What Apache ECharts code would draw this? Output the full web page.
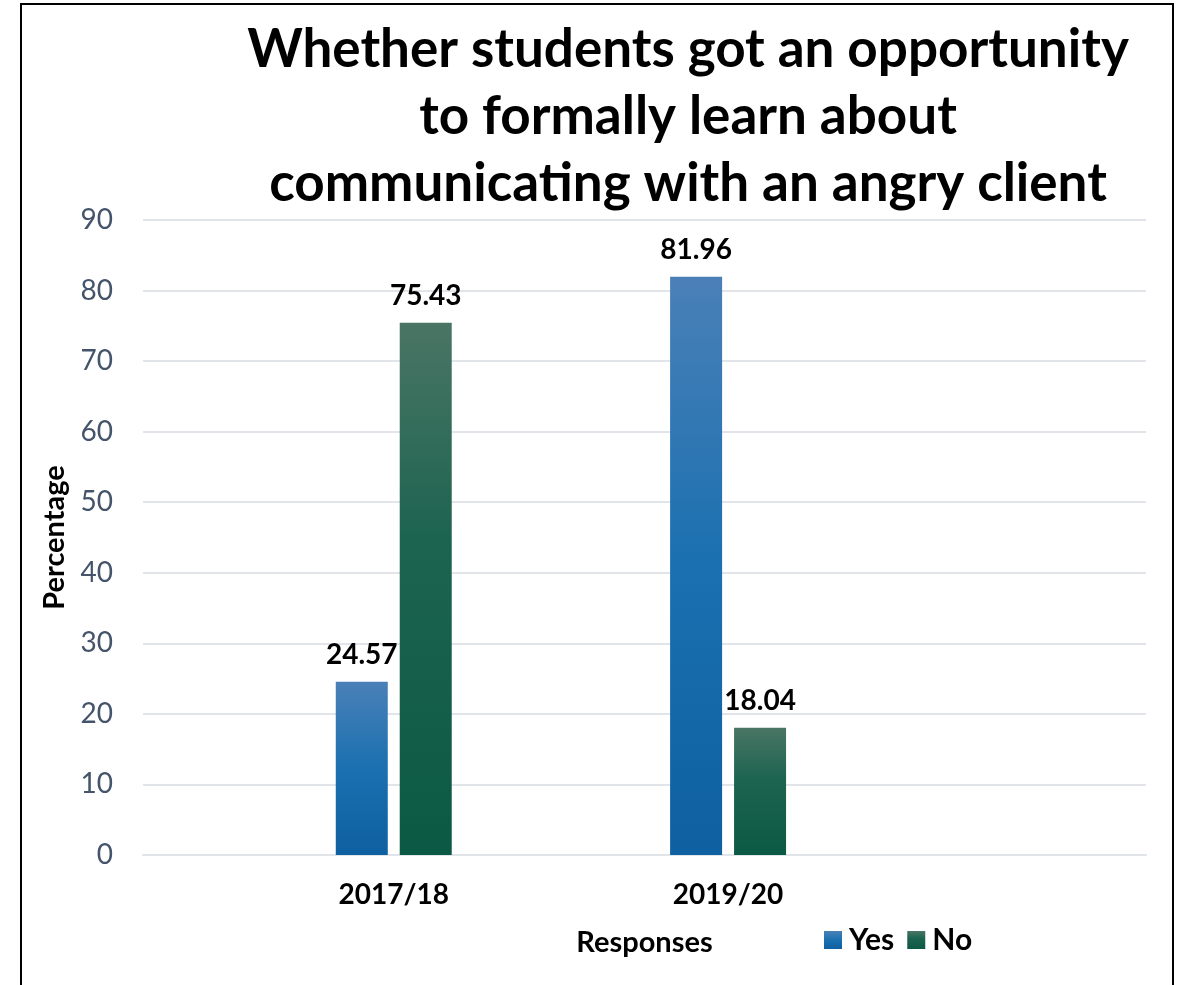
<!DOCTYPE html>
<html>
<head>
<meta charset="utf-8">
<script src="https://cdn.jsdelivr.net/npm/echarts@6/dist/echarts.min.js"></script>
<style>
  html, body { margin: 0; padding: 0; background: #ffffff; }
  #chart { width: 1183px; height: 985px; }
</style>
</head>
<body>
<div id="chart"></div>
<script>
// Survey years and response shares (%)
const categories = ['2017/18', '2019/20'];
const yesValues = [24.57, 81.96];
const noValues = [75.43, 18.04];
const yTicks = [0, 10, 20, 30, 40, 50, 60, 70, 80, 90];

// The category band is split into six slots; the years sit in slots 1 and 3,
// leaving empty room on either side as in the original layout.
const slotOf = [1, 3];
const SLOTS = 6;
const axisData = new Array(SLOTS).fill('');
const yesData = new Array(SLOTS).fill(null);
const noData = new Array(SLOTS).fill(null);
categories.forEach((c, i) => {
  axisData[slotOf[i]] = c;
  yesData[slotOf[i]] = yesValues[i];
  noData[slotOf[i]] = noValues[i];
});

const FONT = 'Lato';
const grad = (stops) => new echarts.graphic.LinearGradient(0, 0, 0, 1,
  stops.map(([o, c]) => ({ offset: o, color: c })));
const blueFill = grad([[0, '#4a80b7'], [0.5, '#1a70b0'], [1, '#0e60a0']]);
const greenFill = grad([[0, '#4a7565'], [0.4, '#1d6450'], [1, '#0b5944']]);

const labelStyle = {
  show: true,
  position: 'top',
  distance: 13,
  fontFamily: FONT,
  fontWeight: 'bold',
  fontSize: 28,
  color: '#000000',
  formatter: (p) => p.value.toFixed(2)
};

const chart = echarts.init(document.getElementById('chart'), null, { renderer: 'canvas' });
chart.setOption({
  backgroundColor: '#ffffff',
  animation: false,
  title: {
    text: 'Whether students got an opportunity\nto formally learn about\ncommunicating with an angry client',
    left: 683,
    top: 11,
    textAlign: 'center',
    textStyle: {
      fontFamily: FONT,
      fontWeight: 'bold',
      fontSize: 53,
      lineHeight: 67,
      color: '#000000'
    }
  },
  graphic: [{
    type: 'rect',
    shape: { x: 21, y: 4, width: 1152, height: 1010 },
    style: { fill: null, stroke: '#000000', lineWidth: 2 },
    silent: true
  }],
  legend: {
    left: 819,
    top: 920,
    itemWidth: 18,
    itemHeight: 18,
    itemGap: 13,
    icon: 'rect',
    textStyle: { fontFamily: FONT, fontWeight: 'bold', fontSize: 30, color: '#000000', padding: [0, 0, 0, 2] },
    data: ['Yes', 'No']
  },
  grid: { left: 143, right: 37, top: 220, bottom: 130, containLabel: false },
  xAxis: {
    type: 'category',
    data: axisData,
    name: 'Responses',
    nameLocation: 'middle',
    nameGap: 73,
    nameTextStyle: { fontFamily: FONT, fontWeight: 'bold', fontSize: 29, color: '#000000' },
    axisLine: { show: true, lineStyle: { color: '#e1e4e8', width: 2 } },
    axisTick: { show: false },
    axisLabel: {
      interval: 0,
      margin: 26,
      fontFamily: FONT,
      fontWeight: 'bold',
      fontSize: 28,
      color: '#000000'
    }
  },
  yAxis: {
    type: 'value',
    min: yTicks[0],
    max: yTicks[yTicks.length - 1],
    interval: yTicks[1] - yTicks[0],
    name: 'Percentage',
    nameLocation: 'middle',
    nameGap: 71,
    nameRotate: 90,
    nameTextStyle: { fontFamily: FONT, fontWeight: 'bold', fontSize: 29, color: '#000000' },
    axisLine: { show: false },
    axisTick: { show: false },
    axisLabel: { margin: 30, fontFamily: FONT, fontSize: 28, color: '#44546a' },
    splitLine: { lineStyle: { color: '#e1e4e8', width: 2 } }
  },
  series: [
    {
      name: 'Yes',
      type: 'bar',
      data: yesData,
      barWidth: 52,
      barGap: '23%',
      itemStyle: { color: blueFill },
      label: labelStyle
    },
    {
      name: 'No',
      type: 'bar',
      data: noData,
      barWidth: 52,
      itemStyle: { color: greenFill },
      label: labelStyle
    }
  ]
});
</script>
</body>
</html>
